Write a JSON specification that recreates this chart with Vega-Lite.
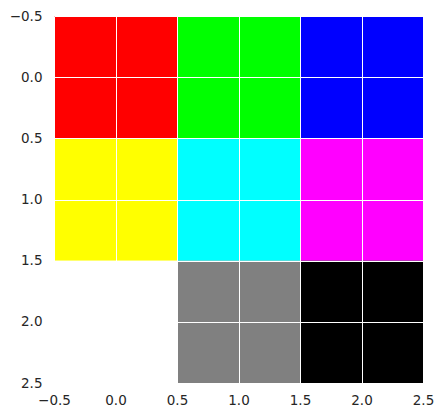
{
  "$schema": "https://vega.github.io/schema/vega-lite/v6.json",
  "autosize": {"type": "none"},
  "padding": {"left": 54, "top": 16, "right": 20, "bottom": 35},
  "width": 369,
  "height": 367,
  "background": "white",
  "config": {"view": {"stroke": null}},
  "data": {"values": [
    {"x0": -0.5, "x1": 0.5, "y0": -0.5, "y1": 0.5, "color": "#ff0000"},
    {"x0": 0.5, "x1": 1.5, "y0": -0.5, "y1": 0.5, "color": "#00ff00"},
    {"x0": 1.5, "x1": 2.5, "y0": -0.5, "y1": 0.5, "color": "#0000ff"},
    {"x0": -0.5, "x1": 0.5, "y0": 0.5, "y1": 1.5, "color": "#ffff00"},
    {"x0": 0.5, "x1": 1.5, "y0": 0.5, "y1": 1.5, "color": "#00ffff"},
    {"x0": 1.5, "x1": 2.5, "y0": 0.5, "y1": 1.5, "color": "#ff00ff"},
    {"x0": -0.5, "x1": 0.5, "y0": 1.5, "y1": 2.5, "color": "#ffffff"},
    {"x0": 0.5, "x1": 1.5, "y0": 1.5, "y1": 2.5, "color": "#808080"},
    {"x0": 1.5, "x1": 2.5, "y0": 1.5, "y1": 2.5, "color": "#000000"}
  ]},
  "mark": {"type": "rect", "strokeWidth": 0},
  "encoding": {
    "x": {"field": "x0", "type": "quantitative",
      "scale": {"domain": [-0.5, 2.5], "nice": false, "zero": false},
      "axis": {"values": [-0.5, 0, 0.5, 1, 1.5, 2, 2.5], "format": ".1f",
        "labelExpr": "replace(datum.label, '-', '\u2212')",
        "title": null, "ticks": false, "domain": false, "grid": true,
        "gridColor": "white", "gridWidth": 1, "gridOpacity": 1, "zindex": 1,
        "labelFont": "DejaVu Sans", "labelFontSize": 13.5, "labelColor": "#262626",
        "labelPadding": 10, "labelFlush": false}},
    "x2": {"field": "x1"},
    "y": {"field": "y0", "type": "quantitative",
      "scale": {"domain": [-0.5, 2.5], "nice": false, "zero": false, "reverse": true},
      "axis": {"values": [-0.5, 0, 0.5, 1, 1.5, 2, 2.5], "format": ".1f",
        "labelExpr": "replace(datum.label, '-', '\u2212')",
        "title": null, "ticks": false, "domain": false, "grid": true,
        "gridColor": "white", "gridWidth": 1, "gridOpacity": 1, "zindex": 1,
        "labelFont": "DejaVu Sans", "labelFontSize": 13.5, "labelColor": "#262626",
        "labelPadding": 12, "labelFlush": false}},
    "y2": {"field": "y1"},
    "color": {"field": "color", "type": "nominal", "scale": null}
  }
}
